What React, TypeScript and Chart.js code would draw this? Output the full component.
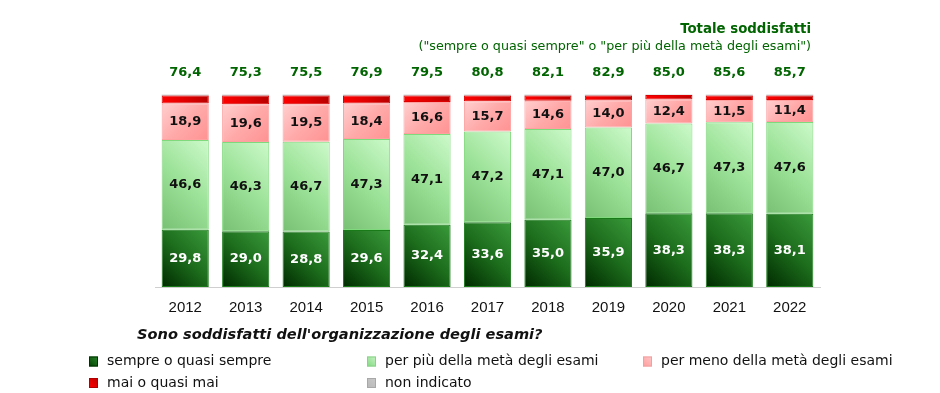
import React, { useEffect, useRef } from "react";
import { Chart, registerables } from "chart.js";

Chart.register(...registerables);

const years = ["2012", "2013", "2014", "2015", "2016", "2017", "2018", "2019", "2020", "2021", "2022"];
const sempre = [29.8, 29.0, 28.8, 29.6, 32.4, 33.6, 35.0, 35.9, 38.3, 38.3, 38.1];
const piuMeta = [46.6, 46.3, 46.7, 47.3, 47.1, 47.2, 47.1, 47.0, 46.7, 47.3, 47.6];
const menoMeta = [18.9, 19.6, 19.5, 18.4, 16.6, 15.7, 14.6, 14.0, 12.4, 11.5, 11.4];
const mai = [4.2, 4.6, 4.5, 4.2, 3.4, 3.0, 2.8, 2.6, 2.4, 2.4, 2.4];
const nonIndicato = [0.5, 0.5, 0.5, 0.5, 0.5, 0.5, 0.5, 0.5, 0.2, 0.5, 0.5];
const totali = ["76,4", "75,3", "75,5", "76,9", "79,5", "80,8", "82,1", "82,9", "85,0", "85,6", "85,7"];

const seriesNames = [
  "sempre o quasi sempre",
  "per più della metà degli esami",
  "per meno della metà degli esami",
  "mai o quasi mai",
  "non indicato",
];

const GREEN_TEXT = "#006400";
const FONT_MAIN = "'DejaVu Sans', Verdana, sans-serif";
const FONT_YEAR = "'Liberation Sans', Arial, sans-serif";

// mode: "up" = bottom-left -> top-right at 45deg, "down" = top-left -> bottom-right, "h" = horizontal
type GradSpec = { stops: string[]; mode: "up" | "down" | "h" };
const grads: GradSpec[] = [
  { stops: ["#002a00", "#1c6c1c", "#3a9a3a"], mode: "up" },
  { stops: ["#78c074", "#9ce298", "#cdfacb"], mode: "up" },
  { stops: ["#ffcfcf", "#ffaaaa", "#ff9292"], mode: "down" },
  { stops: ["#ff0000", "#e00000", "#b80000"], mode: "h" },
  { stops: ["#b0b0b0", "#b0b0b0", "#b0b0b0"], mode: "h" },
];

const borders = ["#1a7a1a", "#80d97c", "#ffa0a0", "#dd0000", "#b0b0b0"];

const gradientPlugin = {
  id: "barGradients",
  beforeDatasetsDraw(chart: any) {
    const ctx = chart.ctx;
    chart.data.datasets.forEach((_ds: any, di: number) => {
      const meta = chart.getDatasetMeta(di);
      const g = grads[di];
      meta.data.forEach((el: any) => {
        const left = el.x - el.width / 2;
        const right = el.x + el.width / 2;
        const top = Math.min(el.y, el.base);
        const bottom = Math.max(el.y, el.base);
        const w = right - left;
        const h = bottom - top;
        const cx = (left + right) / 2;
        const cy = (top + bottom) / 2;
        const e = (w + h) / 4;
        let grad;
        if (g.mode === "up") grad = ctx.createLinearGradient(cx - e, cy + e, cx + e, cy - e);
        else if (g.mode === "down") grad = ctx.createLinearGradient(cx - e, cy - e, cx + e, cy + e);
        else grad = ctx.createLinearGradient(left, top, right, top);
        grad.addColorStop(0, g.stops[0]);
        grad.addColorStop(0.5, g.stops[1]);
        grad.addColorStop(1, g.stops[2]);
        el.options = Object.assign({}, el.options, { backgroundColor: grad });
      });
    });
  },
};

function fitFont(ctx: CanvasRenderingContext2D, text: string, style: string, base: number, family: string, target: number) {
  ctx.font = `${style} ${base}px ${family}`;
  const w = ctx.measureText(text).width;
  const size = (base * target) / w;
  ctx.font = `${style} ${size.toFixed(2)}px ${family}`;
}

const labelsPlugin = {
  id: "customLabels",
  afterDatasetsDraw(chart: any) {
    const ctx = chart.ctx;
    ctx.save();
    ctx.textAlign = "center";
    ctx.textBaseline = "middle";
    for (let di = 0; di < 3; di++) {
      const meta = chart.getDatasetMeta(di);
      const ds = chart.data.datasets[di];
      meta.data.forEach((el: any, i: number) => {
        const v = ds.data[i] as number;
        const cy = (el.y + el.base) / 2;
        ctx.font = `bold 13px ${FONT_MAIN}`;
        ctx.fillStyle = di === 0 ? "#ffffff" : "#111111";
        ctx.fillText(v.toFixed(1).replace(".", ","), el.x, cy);
      });
    }
    const meta0 = chart.getDatasetMeta(0);
    ctx.font = `bold 13px ${FONT_MAIN}`;
    ctx.fillStyle = GREEN_TEXT;
    meta0.data.forEach((el: any, i: number) => {
      ctx.fillText(totali[i], el.x, 73);
    });
    ctx.textAlign = "right";
    const t1 = "Totale soddisfatti";
    fitFont(ctx, t1, "bold", 14, FONT_MAIN, 131);
    ctx.fillText(t1, 811, 30);
    const t2 = '("sempre o quasi sempre" o "per più della metà degli esami")';
    fitFont(ctx, t2, "normal", 12, FONT_MAIN, 393);
    ctx.fillText(t2, 811, 47);
    ctx.textAlign = "left";
    ctx.fillStyle = "#111111";
    const q = "Sono soddisfatti dell'organizzazione degli esami?";
    fitFont(ctx, q, "italic bold", 14, FONT_MAIN, 406);
    ctx.fillText(q, 137, 335);
    const pos = [
      [89, 361.5],
      [367, 361.5],
      [643, 361.5],
      [89, 383],
      [367, 383],
    ];
    const sqA = ["#004000", "#80d880", "#ff9c9c", "#ff0000", "#b8b8b8"];
    const sqB = ["#2a852a", "#c8f4c4", "#ffc8c8", "#c00000", "#c8c8c8"];
    const sqBorder = ["#003000", "#8ad08a", "#f0a0a0", "#b00000", "#a8a8a8"];
    ctx.font = `14px ${FONT_MAIN}`;
    pos.forEach((p, i) => {
      const g = ctx.createLinearGradient(p[0], p[1] + 5, p[0] + 9, p[1] - 5);
      g.addColorStop(0, sqA[i]);
      g.addColorStop(1, sqB[i]);
      ctx.fillStyle = g;
      ctx.fillRect(p[0], p[1] - 5, 9, 10);
      ctx.strokeStyle = sqBorder[i];
      ctx.lineWidth = 1;
      ctx.strokeRect(p[0] + 0.5, p[1] - 4.5, 8, 9);
      ctx.fillStyle = "#111111";
      ctx.fillText(seriesNames[i], p[0] + 18, p[1]);
    });
    ctx.restore();
  },
};

export default function App() {
  const ref = useRef<HTMLCanvasElement | null>(null);
  useEffect(() => {
    if (!ref.current) return;
    const seriesData = [sempre, piuMeta, menoMeta, mai, nonIndicato];
    const chart = new Chart(ref.current, {
      type: "bar",
      data: {
        labels: years,
        datasets: seriesData.map((d, i) => ({
          label: seriesNames[i],
          data: d,
          backgroundColor: () => grads[i].stops[0],
          borderColor: borders[i],
          borderWidth: i === 4 ? 0 : 1,
          borderSkipped: false,
          barPercentage: 0.78,
          categoryPercentage: 1,
        })),
      },
      options: {
        responsive: false,
        animation: false,
        layout: { padding: { left: 155, right: 120, top: 94.5, bottom: 64 } },
        plugins: {
          legend: { display: false },
          tooltip: { enabled: false },
          title: { display: false },
        },
        scales: {
          x: {
            stacked: true,
            grid: { display: false, drawTicks: false },
            border: { display: true, color: "#cfcfcf", width: 1 },
            ticks: {
              color: "#111111",
              font: { family: FONT_YEAR, size: 15 },
              padding: 12,
            },
          },
          y: {
            stacked: true,
            display: false,
            min: 0,
            max: 100,
          },
        },
      },
      plugins: [gradientPlugin, labelsPlugin],
    });
    return () => chart.destroy();
  }, []);
  return (
    <div style={{ position: "absolute", left: 0, top: 0, width: 940, height: 393, background: "#fff" }}>
      <canvas ref={ref} width={940} height={393} style={{ width: 940, height: 393, display: "block" }} />
    </div>
  );
}
